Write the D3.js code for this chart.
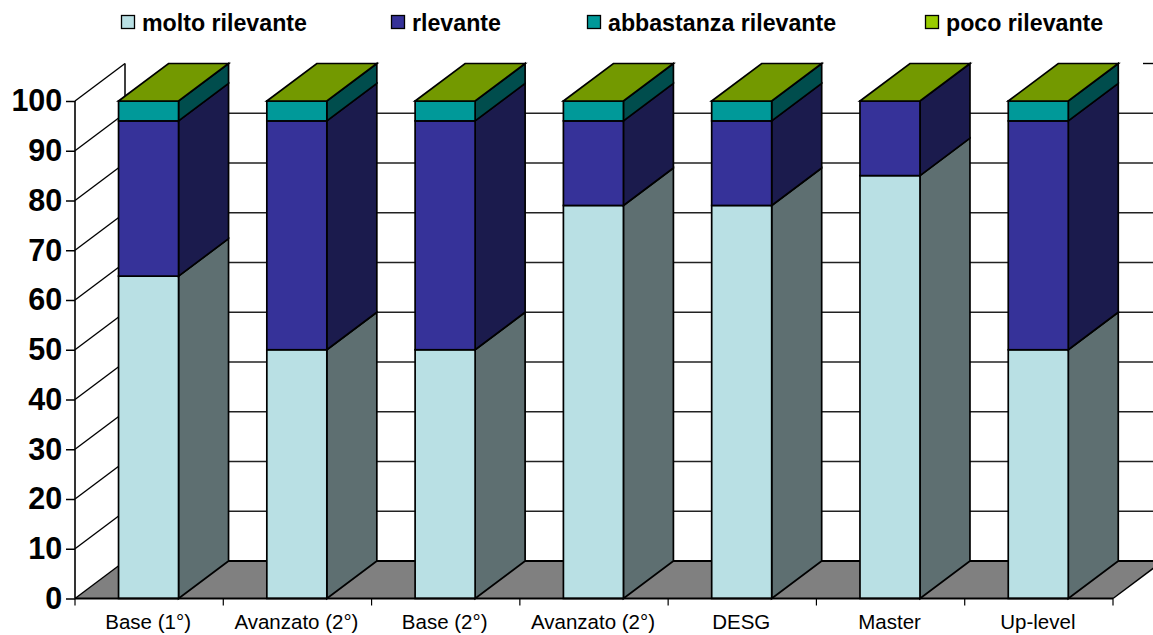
<!DOCTYPE html>
<html><head><meta charset="utf-8">
<script src="https://cdn.jsdelivr.net/npm/d3@7"></script>
<style>html,body{margin:0;padding:0;background:#fff}svg{display:block}text{font-family:"Liberation Sans",Arial,sans-serif}</style>
</head><body><svg id="c" width="1153" height="635"></svg>
<script>
const categories=["Base (1°)","Avanzato (2°)","Base (2°)","Avanzato (2°)","DESG","Master","Up-level"];
const seriesNames=["molto rilevante","rlevante","abbastanza rilevante","poco rilevante"];
const molto=[64.8,50,50,79,79,85,50];
const rilevante=[31.2,46,46,17,17,15,46];
const abbastanza=[4,4,4,4,4,0,4];
const poco=[0,0,0,0,0,0,0];
const yTicks=d3.range(0,101,10);
const frontColors=["#B9E0E4","#363299","#009999","#739900"];
const sideColors=["#5E6F71","#1B1B4D","#004D4D","#004D4D"];
const topColor="#739900";
const legendColors=["#B9E0E4","#363299","#009999","#99CC00"];
const legendSwatchX=[121,391,587,925];
const legendTextX=[142,412,608,946];

const svg=d3.select("#c");
const x=d3.scaleBand().domain(d3.range(categories.length)).range([75,1113]);
const y=d3.scaleLinear().domain([0,100]).range([598.5,101]);
const dx=50,dy=-37.5,barW=60;
const series=[molto,rilevante,abbastanza,poco];
const line=d3.line();
const barX=i=>x(i)+(x.bandwidth()-barW)/2-0.6;

// floor
svg.append("path").attr("d",line([[x.range()[0],y(0)],[x.range()[0]+dx,y(0)+dy],[x.range()[1]+dx,y(0)+dy],[x.range()[1],y(0)]])+"Z")
  .attr("fill","#808080");
// back wall gridlines + left wall
const grid=svg.append("g").attr("fill","none").attr("stroke","#000");
yTicks.forEach(t=>{
  const yb=y(t)+dy;
  grid.append("line").attr("x1",x.range()[0]).attr("y1",y(t)).attr("x2",x.range()[0]+dx).attr("y2",yb).attr("stroke-width",1.4);
  if(t<100) grid.append("line").attr("x1",x.range()[0]+dx).attr("y1",yb).attr("x2",1153).attr("y2",yb).attr("stroke-width",t===0?2:1.4).attr("stroke",t===0?"#000":"#222");
});
grid.append("line").attr("x1",1143).attr("y1",y(100)+dy).attr("x2",1153).attr("y2",y(100)+dy).attr("stroke-width",1.4);
grid.append("line").attr("x1",x.range()[0]+dx).attr("y1",y(0)+dy).attr("x2",x.range()[0]+dx).attr("y2",y(100)+dy).attr("stroke-width",1.5);
// floor right edge
grid.append("line").attr("x1",x.range()[1]).attr("y1",y(0)).attr("x2",x.range()[1]+dx).attr("y2",y(0)+dy).attr("stroke-width",1.4);

// bars
categories.forEach((c,i)=>{
  const g=svg.append("g").attr("stroke","#000").attr("stroke-width",1.7).attr("stroke-linejoin","miter");
  const xl=barX(i),xr=xl+barW;
  let cum=0;
  series.forEach((s,k)=>{
    const v=s[i];
    if(v<=0)return;
    const y0=y(cum),y1=y(cum+v);
    g.append("path").attr("d",line([[xr,y0],[xr+dx,y0+dy],[xr+dx,y1+dy],[xr,y1]])+"Z").attr("fill",sideColors[k]);
    g.append("rect").attr("x",xl).attr("y",y1).attr("width",barW).attr("height",y0-y1).attr("fill",frontColors[k]);
    cum+=v;
  });
  const yt=y(cum);
  g.append("path").attr("d",line([[xl,yt],[xl+dx,yt+dy],[xr+dx,yt+dy],[xr,yt]])+"Z").attr("fill",topColor);
});

// axes
const yAxis=d3.axisLeft(y).tickValues(yTicks).tickSize(9).tickPadding(4);
const gy=svg.append("g").attr("transform","translate(75,0)").call(yAxis);
gy.select(".domain").attr("stroke-width",1.6).attr("d",`M0,${y(100)}V${y(0)}`);
gy.selectAll(".tick line").attr("stroke-width",1.5);
gy.selectAll("text").attr("font-size",30.5).attr("font-weight","bold").attr("letter-spacing",-0.1).attr("fill","#000");

const xAxisG=svg.append("g").attr("transform",`translate(0,${y(0)})`);
xAxisG.append("line").attr("x1",x.range()[0]).attr("x2",x.range()[1]).attr("stroke","#000").attr("stroke-width",2);
d3.range(categories.length+1).forEach(i=>{
  const px=x.range()[0]+i*x.bandwidth();
  xAxisG.append("line").attr("x1",px).attr("x2",px).attr("y1",0).attr("y2",7).attr("stroke","#000").attr("stroke-width",1.2);
});
categories.forEach((c,i)=>{
  xAxisG.append("text").attr("x",x(i)+x.bandwidth()/2-1).attr("y",30).attr("text-anchor","middle").attr("font-size",20.5).attr("fill","#000").text(c);
});

// legend
seriesNames.forEach((n,k)=>{
  svg.append("rect").attr("x",legendSwatchX[k]+.5).attr("y",15.5).attr("width",13).attr("height",13).attr("fill",legendColors[k]).attr("stroke","#000").attr("stroke-width",1.3);
  svg.append("text").attr("x",legendTextX[k]).attr("y",30.5).attr("font-size",23.2).attr("font-weight","bold").attr("fill","#000").text(n);
});
</script></body></html>
